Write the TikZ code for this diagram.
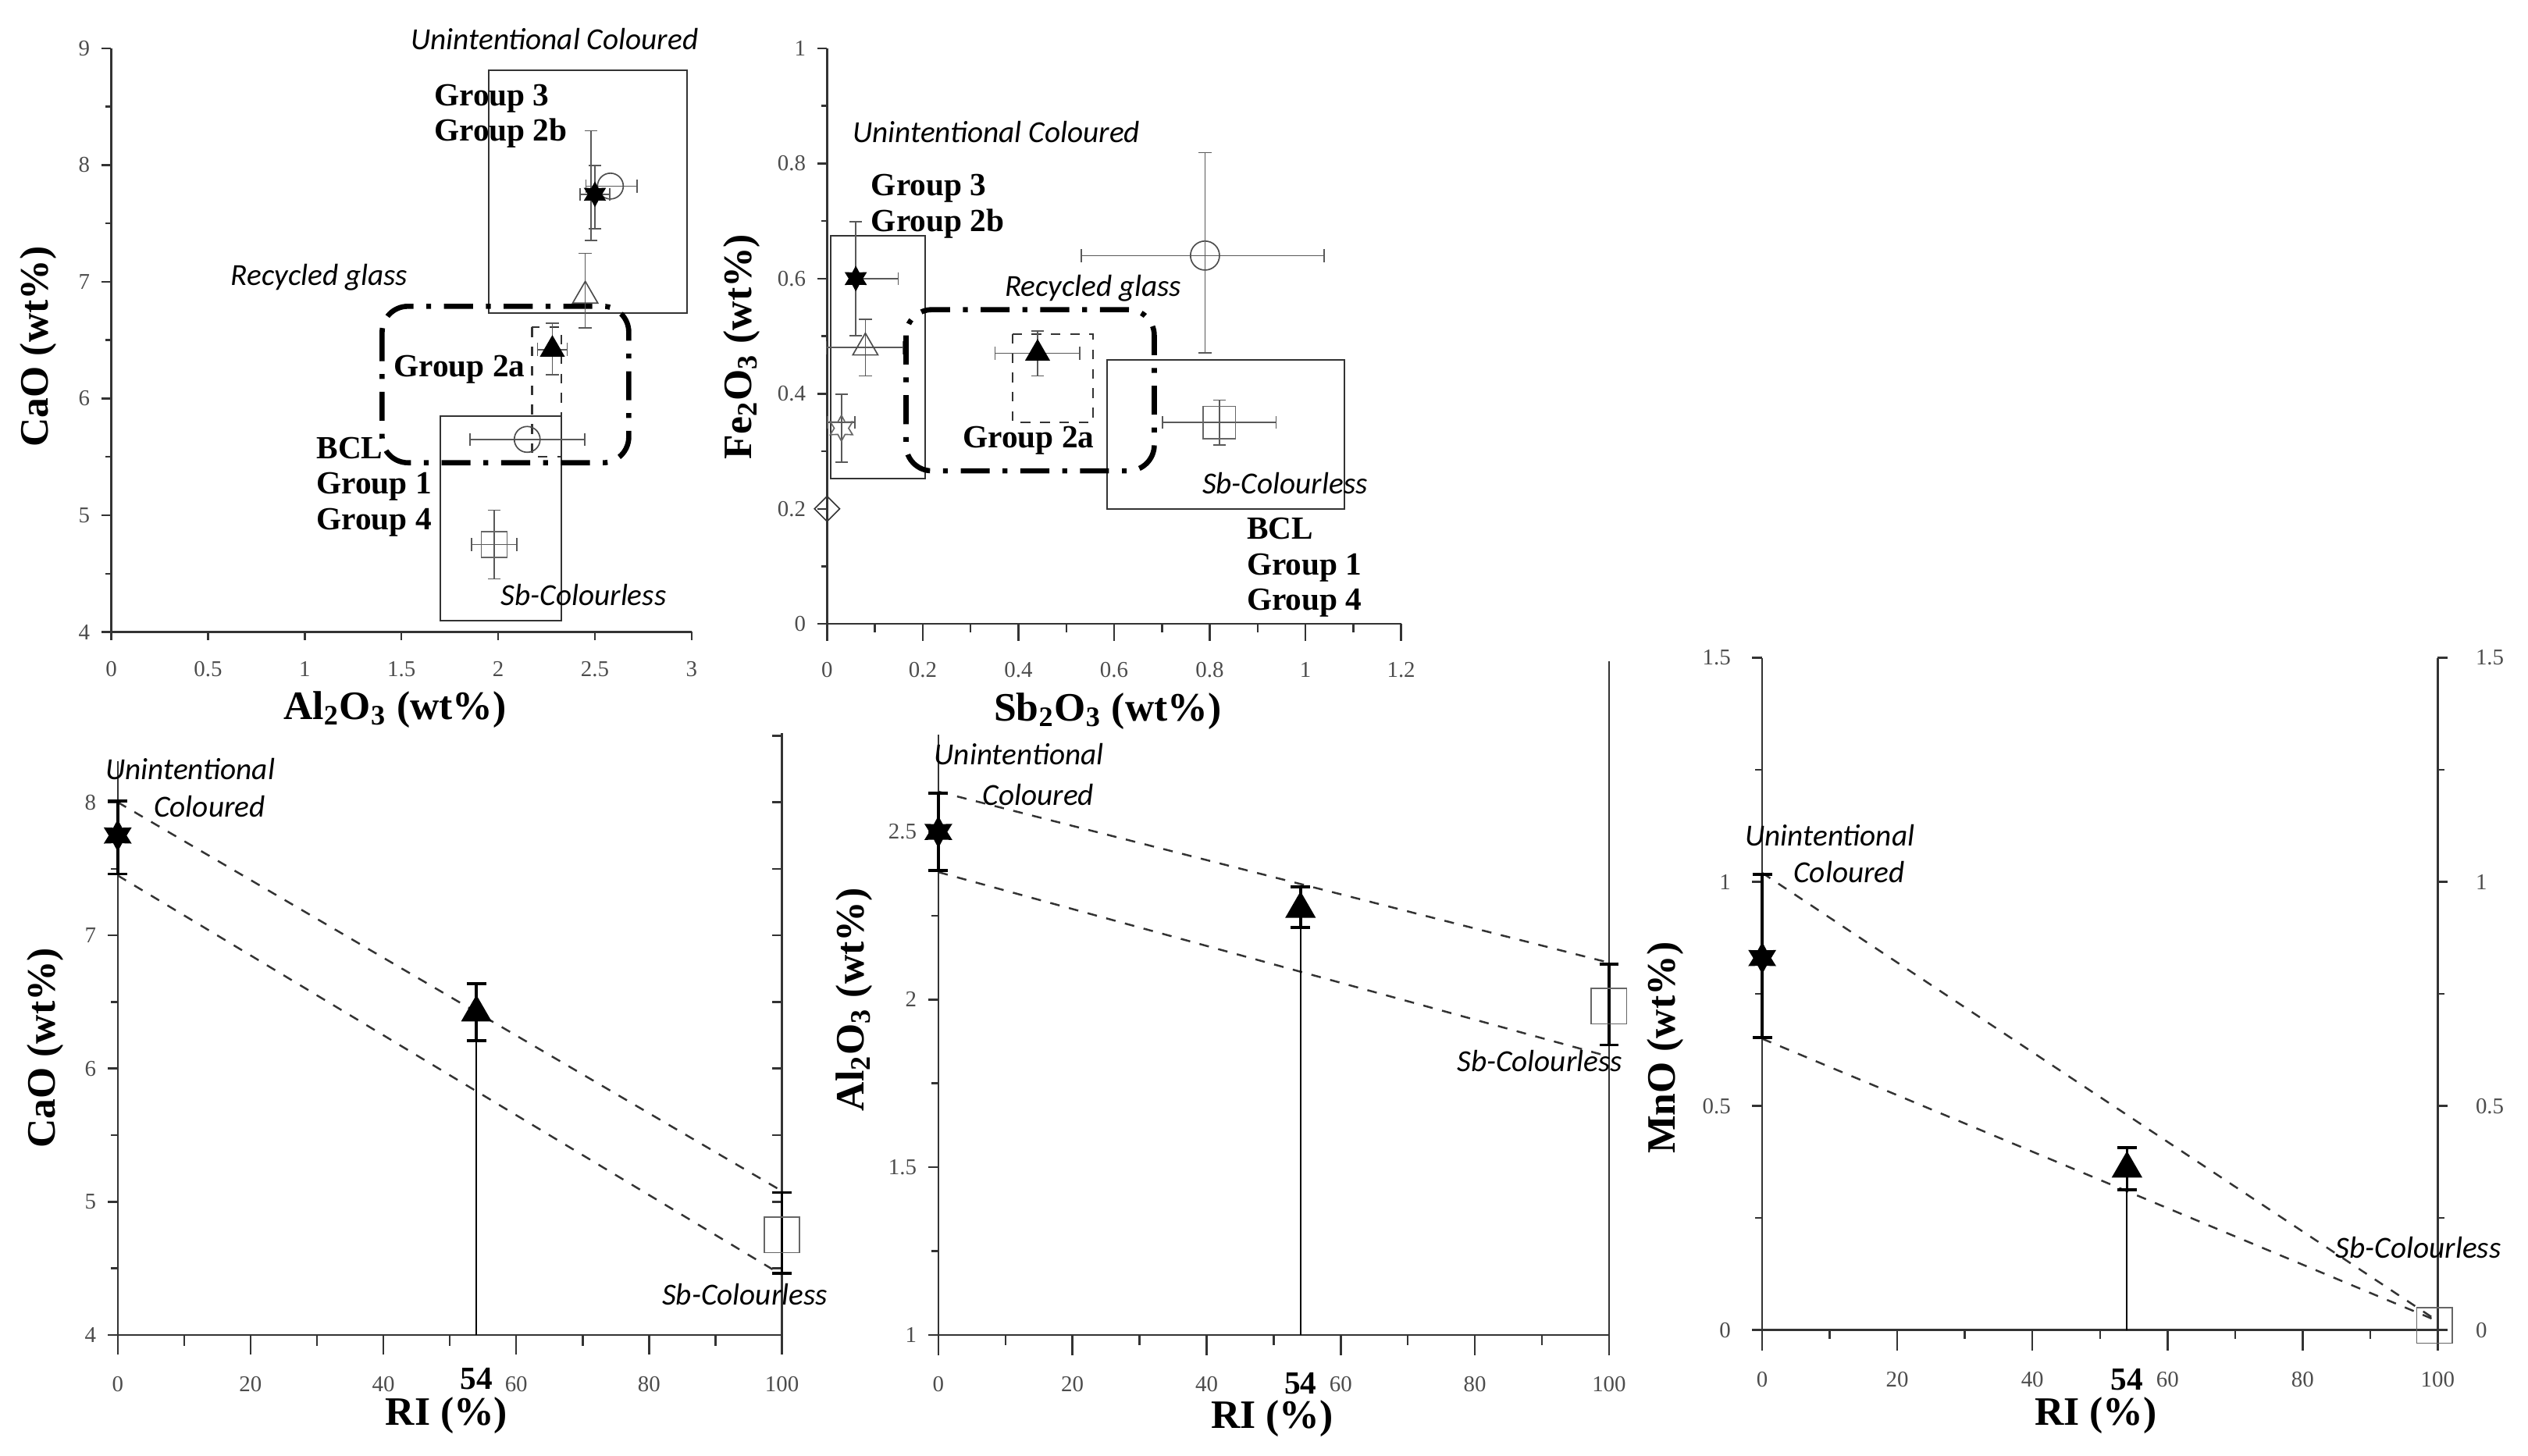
\documentclass[tikz,border=0pt]{standalone}
\usepackage{fontspec}
\setmainfont{Liberation Serif}
\newfontfamily\carlito{Carlito}
\usetikzlibrary{arrows.meta,shapes.geometric}

\begin{document}
\begin{tikzpicture}[x=0.5pt,y=-0.5pt]
  %----- styles
  \tikzset{
    tk/.style    ={font=\fontsize{7}{8}\selectfont,text=black!70},
    grp/.style   ={font=\bfseries\fontsize{10}{11}\selectfont,align=left,inner sep=0pt},
    lab/.style   ={font=\carlito\itshape\fontsize{9.5}{11}\selectfont,inner sep=0pt},
    axl/.style   ={font=\bfseries\fontsize{12.5}{13}\selectfont,inner sep=0pt},
    axis/.style  ={line width=0.6pt,black!80},
    ebar/.style  ={line width=0.4pt,black!65,{Bar[width=4pt]}-{Bar[width=4pt]}},
    kbar/.style  ={line width=0.9pt,black,{Bar[width=6pt]}-{Bar[width=6pt]}},
    fstar/.style ={star,star points=6,star point ratio=1.8,fill=black,inner sep=0pt,minimum size=8pt},
    ostar/.style ={star,star points=6,star point ratio=1.8,draw=black!60,inner sep=0pt,minimum size=8pt},
    ftri/.style  ={regular polygon,regular polygon sides=3,fill=black,inner sep=0pt,minimum size=9pt},
    otri/.style  ={regular polygon,regular polygon sides=3,draw=black!70,inner sep=0pt,minimum size=9pt},
    ocirc/.style ={circle,draw=black!70,inner sep=0pt,minimum size=8pt},
    osq/.style   ={rectangle,draw=black!60,inner sep=0pt,minimum size=8pt},
    odia/.style  ={diamond,draw=black!80,inner sep=0pt,minimum size=8pt},
    group/.style ={line width=0.5pt,black!80},
    dashdot/.style={line width=1.6pt,rounded corners=8pt,dash pattern=on 9pt off 4pt on 1.5pt off 4pt},
    trend/.style ={dashed,line width=0.6pt,black!80}
  }
  \useasboundingbox (0,0) rectangle (1568,903);

  %----- top left: CaO vs Al2O3
  \begin{scope}[shift={(69,681.6)},xscale=120,yscale=-72.4]
    \draw[axis] (0,4) -- (0,9) (0,4) -- (3,4);
    \foreach \v in {4,...,9} \draw[axis] (0,\v) -- (-0.05,\v) node[tk,left] {\v};
    \foreach \v in {4.5,5.5,...,8.5} \draw[axis] (0,\v) -- (-0.03,\v);
    \foreach \v/\t in {0/0,0.5/0.5,1/1,1.5/1.5,2/2,2.5/2.5,3/3} \draw[axis] (\v,4) -- (\v,3.93) node[tk,below=3pt] {\t};
    \draw[group] (1.95,8.81) rectangle (2.975,6.73);
    \draw[group] (1.70,5.85) rectangle (2.325,4.10);
    \draw[dashdot] (1.40,6.79) rectangle (2.675,5.45);
    \draw[group,dashed] (2.175,6.61) rectangle (2.325,5.5);
    \draw[ebar] (2.48,8.3) -- (2.48,7.35); \draw[ebar] (2.45,7.82) -- (2.72,7.82);
    \node[ocirc] (c1) at (2.58,7.82) {};
    \draw[ebar] (2.5,8.0) -- (2.5,7.45); \draw[ebar] (2.42,7.75) -- (2.58,7.75);
    \node[fstar] (s1) at (2.5,7.75) {};
    \draw[ebar] (2.45,7.25) -- (2.45,6.6);
    \node[otri] (t1) at (2.45,6.88) {};
    \draw[ebar] (2.28,6.65) -- (2.28,6.2); \draw[ebar] (2.2,6.42) -- (2.36,6.42);
    \node[ftri] (f1) at (2.28,6.42) {};
    \draw[ebar] (1.85,5.65) -- (2.45,5.65);
    \node[ocirc] (c2) at (2.15,5.65) {};
    \draw[ebar] (1.98,5.05) -- (1.98,4.45); \draw[ebar] (1.86,4.75) -- (2.1,4.75);
    \node[osq] (q1) at (1.98,4.75) {};
  \end{scope}
  \node[lab] (uc1) at (344,24) {Unintentional Coloured};
  \node[grp,anchor=west] (g1) at (269,72) {Group 3\\Group 2b};
  \node[lab] (rg1) at (198,172) {Recycled glass};
  \node[grp] (ga1) at (285,229) {Group 2a};
  \node[grp,anchor=west] (b1) at (196,302) {BCL\\Group 1\\Group 4};
  \node[lab] (sc1) at (362,369) {Sb-Colourless};
  \node[axl,rotate=90] (ya1) at (24,215) {CaO (wt\%)};
  \node[axl] (xa1) at (245,440) {Al\textsubscript{2}O\textsubscript{3} (wt\%)};

  %----- top middle: Fe2O3 vs Sb2O3
  \begin{scope}[shift={(513,387)},xscale=296.7,yscale=-357]
    \draw[axis] (0,0) -- (0,1) (0,0) -- (1.2,0);
    \foreach \v in {0,0.2,0.4,0.6,0.8,1} \draw[axis] (0,\v) -- (-0.02,\v) node[tk,left] {\v};
    \foreach \v in {0.1,0.3,0.5,0.7,0.9} \draw[axis] (0,\v) -- (-0.012,\v);
    \foreach \v in {0,0.2,0.4,0.6,0.8,1,1.2} \draw[axis] (\v,0) -- (\v,-0.03) node[tk,below=3pt] {\v};
    \foreach \v in {0.1,0.3,0.5,0.7,0.9,1.1} \draw[axis] (\v,0) -- (\v,-0.015);
    \draw[group] (0.007,0.675) rectangle (0.205,0.252);
    \draw[group] (0.586,0.459) rectangle (1.082,0.199);
    \draw[dashdot] (0.165,0.546) rectangle (0.684,0.266);
    \draw[group,dashed] (0.388,0.504) rectangle (0.556,0.35);
    \draw[ebar] (0.79,0.82) -- (0.79,0.47); \draw[ebar] (0.53,0.64) -- (1.04,0.64);
    \node[ocirc,minimum size=9pt] (c3) at (0.79,0.64) {};
    \draw[ebar] (0.06,0.70) -- (0.06,0.50); \draw[ebar] (0.06,0.60) -- (0.15,0.60);
    \node[fstar] (s2) at (0.06,0.60) {};
    \draw[ebar] (0.08,0.53) -- (0.08,0.43); \draw[ebar] (-0.003,0.48) -- (0.16,0.48);
    \node[otri] (t2) at (0.08,0.48) {};
    \draw[ebar] (0.03,0.40) -- (0.03,0.28); \draw[ebar] (0,0.35) -- (0.06,0.35);
    \node[ostar] (s3) at (0.03,0.34) {};
    \node[odia] (d1) at (0,0.2) {};
    \draw[ebar] (0.44,0.51) -- (0.44,0.43); \draw[ebar] (0.35,0.47) -- (0.53,0.47);
    \node[ftri] (f2) at (0.44,0.47) {};
    \draw[ebar] (0.82,0.39) -- (0.82,0.31); \draw[ebar] (0.70,0.35) -- (0.94,0.35);
    \node[osq,minimum size=10pt] (q2) at (0.82,0.35) {};
  \end{scope}
  \node[lab] (uc2) at (618,82) {Unintentional Coloured};
  \node[grp,anchor=west] (g2) at (540,128) {Group 3\\Group 2b};
  \node[lab] (rg2) at (678,179) {Recycled glass};
  \node[grp] (ga2) at (638,273) {Group 2a};
  \node[lab] (sc2) at (797,300) {Sb-Colourless};
  \node[grp,anchor=west] (b2) at (773,352) {BCL\\Group 1\\Group 4};
  \node[axl,rotate=90] (ya2) at (460,215) {Fe\textsubscript{2}O\textsubscript{3} (wt\%)};
  \node[axl] (xa2) at (687,441) {Sb\textsubscript{2}O\textsubscript{3} (wt\%)};

  %----- bottom left: CaO vs RI
  \begin{scope}[shift={(73,1158.4)},xscale=4.12,yscale=-82.6]
    \draw[axis] (0,4) -- (0,8.31) (0,4) -- (100,4) (100,4) -- (100,8.52);
    \foreach \v in {4,...,8} \draw[axis] (0,\v) -- (-1.5,\v) node[tk,left] {\v};
    \foreach \v in {4.5,5,...,8.5} \draw[axis] (100,\v) -- (98.5,\v);
    \foreach \v in {4.5,5.5,6.5,7.5} \draw[axis] (0,\v) -- (-1,\v);
    \foreach \v in {0,20,...,100} \draw[axis] (\v,4) -- (\v,3.85) node[tk,below=3pt] {\v};
    \foreach \v in {10,30,50,70,90} \draw[axis] (\v,4) -- (\v,3.92);
    \draw[trend] (0,8.0) -- (100,5.08);
    \draw[trend] (0,7.45) -- (100,4.45);
    \draw[line width=0.5pt] (54,4) -- (54,6.2);
    \draw[kbar] (0,8.02) -- (0,7.45);
    \node[fstar,minimum size=10pt] (s4) at (0,7.75) {};
    \draw[kbar] (54,6.65) -- (54,6.2);
    \node[ftri,minimum size=11pt] (f4) at (54,6.42) {};
    \draw[kbar] (100,5.08) -- (100,4.45);
    \node[osq,minimum size=11pt] (q4) at (100,4.75) {};
    \node[font=\bfseries\fontsize{10}{11}\selectfont] (n4) at (54,3.67) {54};
  \end{scope}
  \node[lab] (uc4) at (118,477) {Unintentional};
  \node[lab] (co4) at (130,500) {Coloured};
  \node[lab] (sc4) at (462,803) {Sb-Colourless};
  \node[axl,rotate=90] (ya4) at (28,650) {CaO (wt\%)};
  \node[axl] (xa4) at (277,878) {RI (\%)};

  %----- bottom middle: Al2O3 vs RI
  \begin{scope}[shift={(582,1036)},xscale=4.16,yscale=-208]
    \draw[axis] (0,1) -- (0,2.79) (0,1) -- (100,1) (100,1) -- (100,3.01);
    \foreach \v in {1,1.5,2,2.5} \draw[axis] (0,\v) -- (-1.5,\v) node[tk,left] {\v};
    \foreach \v in {1.25,1.75,2.25} \draw[axis] (0,\v) -- (-1,\v);
    \foreach \v in {0,20,...,100} \draw[axis] (\v,1) -- (\v,0.94) node[tk,below=3pt] {\v};
    \foreach \v in {10,30,50,70,90} \draw[axis] (\v,1) -- (\v,0.97);
    \draw[trend] (0,2.62) -- (100,2.11);
    \draw[trend] (0,2.38) -- (100,1.83);
    \draw[line width=0.5pt] (54,1) -- (54,2.21);
    \draw[kbar] (0,2.62) -- (0,2.38);
    \node[fstar,minimum size=10pt] (s5) at (0,2.5) {};
    \draw[kbar] (54,2.34) -- (54,2.21);
    \node[ftri,minimum size=11pt] (f5) at (54,2.27) {};
    \draw[kbar] (100,2.11) -- (100,1.86);
    \node[osq,minimum size=11pt] (q5) at (100,1.98) {};
    \node[font=\bfseries\fontsize{10}{11}\selectfont] (n5) at (54,0.855) {54};
  \end{scope}
  \node[lab] (uc5) at (632,468) {Unintentional};
  \node[lab] (co5) at (644,493) {Coloured};
  \node[lab] (sc5) at (955,658) {Sb-Colourless};
  \node[axl,rotate=90] (ya5) at (530,620) {Al\textsubscript{2}O\textsubscript{3} (wt\%)};
  \node[axl] (xa5) at (789,880) {RI (\%)};

  %----- bottom right: MnO vs RI
  \begin{scope}[shift={(1093,825)},xscale=4.19,yscale=-278]
    \draw[axis] (0,0) -- (0,1.5) (0,0) -- (100,0) (100,0) -- (100,1.5);
    \foreach \v in {0,0.5,1,1.5} {
      \draw[axis] (0,\v) -- (-1.5,\v) node[tk,left=3pt] {\v};
      \draw[axis] (100,\v) -- (101.5,\v) node[tk,right=5pt] {\v};
    }
    \foreach \v in {0.25,0.75,1.25} \draw[axis] (0,\v) -- (-1,\v) (100,\v) -- (101,\v);
    \foreach \v in {0,20,...,100} \draw[axis] (\v,0) -- (\v,-0.045) node[tk,below=3pt] {\v};
    \foreach \v in {10,30,50,70,90} \draw[axis] (\v,0) -- (\v,-0.02);
    \draw[trend] (0,1.02) -- (100,0.02);
    \draw[trend] (0,0.65) -- (100,0.02);
    \draw[line width=0.5pt] (54,0) -- (54,0.31);
    \draw[kbar] (0,1.02) -- (0,0.65);
    \node[fstar,minimum size=10pt] (s6) at (0,0.83) {};
    \draw[kbar] (54,0.41) -- (54,0.31);
    \node[ftri,minimum size=11pt] (f6) at (54,0.36) {};
    \node[osq,minimum size=11pt] (q6) at (99.5,0.01) {};
    \node[font=\bfseries\fontsize{10}{11}\selectfont] (n6) at (54,-0.11) {54};
  \end{scope}
  \node[lab] (uc6) at (1135,518) {Unintentional};
  \node[lab] (co6) at (1147,541) {Coloured};
  \node[lab] (sc6) at (1500,774) {Sb-Colourless};
  \node[axl,rotate=90] (ya6) at (1033,650) {MnO (wt\%)};
  \node[axl] (xa6) at (1300,878) {RI (\%)};
\end{tikzpicture}
\end{document}
